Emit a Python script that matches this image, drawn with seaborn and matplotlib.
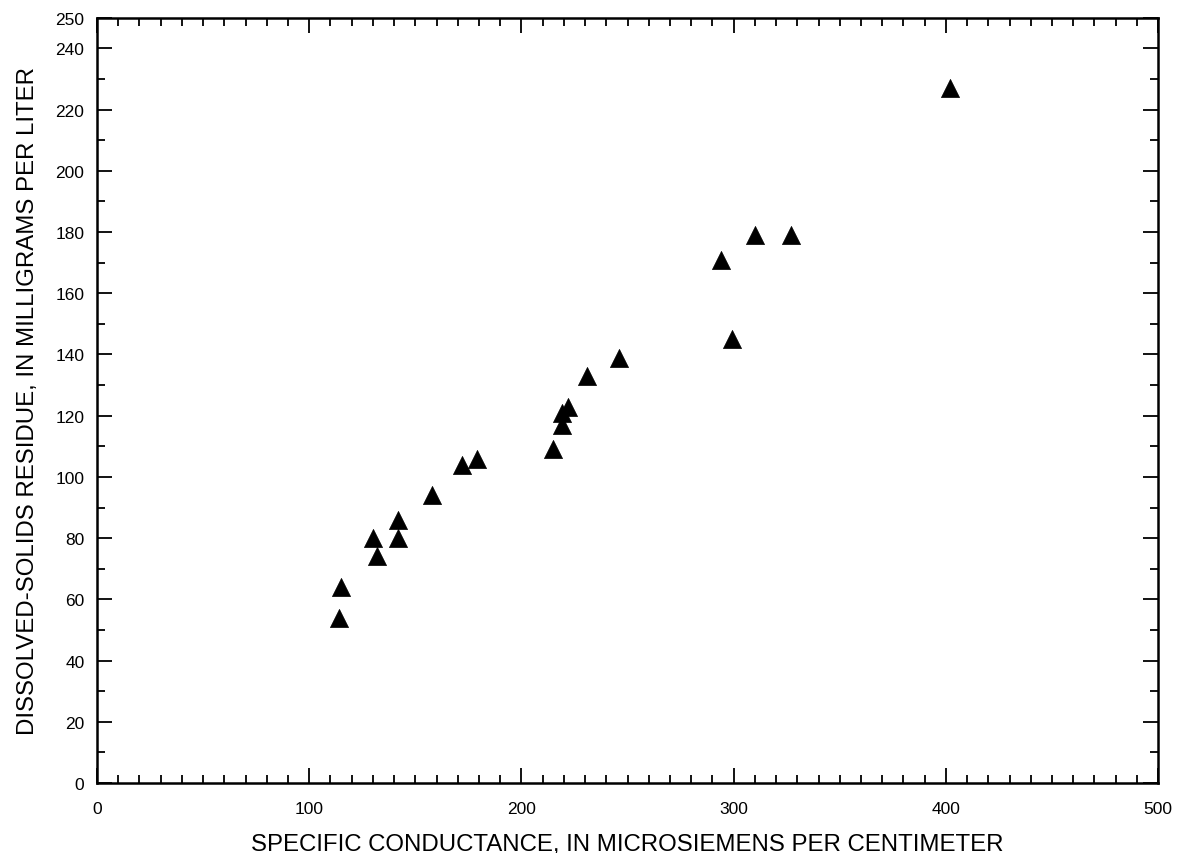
import numpy as np
import pandas as pd
import seaborn as sns
import matplotlib.pyplot as plt
from matplotlib.ticker import MultipleLocator, FixedLocator

sns.set_style("ticks")
plt.rcParams['font.family'] = ['Liberation Sans', 'DejaVu Sans']
plt.rcParams['text.color'] = 'black'
plt.rcParams['axes.labelcolor'] = 'black'

# specific conductance (uS/cm) vs dissolved-solids residue (mg/L)
conductance = [114, 115, 132, 130, 142, 142, 158, 172, 179, 215,
               219, 219, 222, 231, 246, 299, 294, 310, 327, 402]
residue = [54, 64, 74, 80, 80, 86, 94, 104, 106, 109,
           117, 121, 123, 133, 139, 145, 171, 179, 179, 227]

df = pd.DataFrame({"cond": conductance, "tds": residue})

fig = plt.figure(figsize=(11.87, 8.54), dpi=100)
ax = fig.add_axes([0.0817, 0.082, 0.894, 0.896])

sns.scatterplot(data=df, x="cond", y="tds", marker="^", color="black",
                s=170, edgecolor="black", linewidth=0.5, ax=ax, zorder=3)

ax.set_xlim(0, 500)
ax.set_ylim(0, 250)
ax.xaxis.set_major_locator(MultipleLocator(100))
ax.xaxis.set_minor_locator(MultipleLocator(10))
ax.yaxis.set_major_locator(FixedLocator(list(range(0, 241, 20)) + [250]))
ax.yaxis.set_minor_locator(MultipleLocator(10))

ax.tick_params(which="both", direction="in", top=True, right=True,
               labelsize=12.5, width=1.3, colors="black")
ax.tick_params(which="major", length=11)
ax.tick_params(axis="x", which="major", pad=13)
ax.tick_params(axis="y", which="major", pad=9)
ax.tick_params(which="minor", length=6)
for s in ax.spines.values():
    s.set_linewidth(1.8)
    s.set_color("black")

ax.set_xlabel("SPECIFIC CONDUCTANCE, IN MICROSIEMENS PER CENTIMETER",
              fontsize=17.3, labelpad=12)
ax.set_ylabel("DISSOLVED-SOLIDS RESIDUE, IN MILLIGRAMS PER LITER",
              fontsize=17.3, labelpad=12)

fig.savefig("out.png", dpi=100)
